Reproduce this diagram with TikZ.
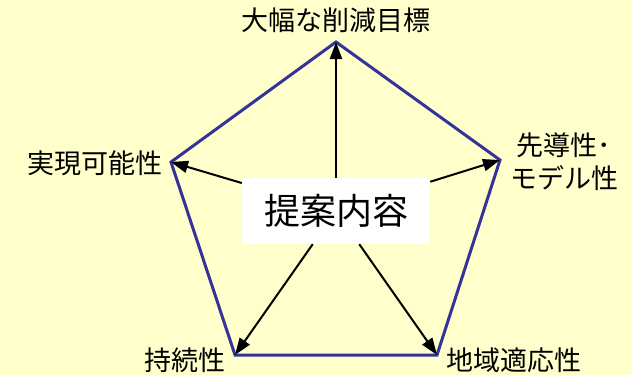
\documentclass[tikz,border=0pt]{standalone}
\usepackage{fontspec}
\setmainfont{Noto Sans CJK JP}
\usepackage{xcolor}
\definecolor{paleYellow}{HTML}{FFFFCC}
\definecolor{edgeBlue}{HTML}{333399}
\usetikzlibrary{arrows.meta, positioning}

\begin{document}
\begin{tikzpicture}[
		x=1pt, y=-1pt,
		pent/.style={draw=edgeBlue, line width=3pt, line join=miter},
		arrow/.style={-{Triangle[length=17pt, width=12pt]}, line width=2pt},
		lbl/.style={inner sep=0pt, align=center, font=\fontsize{27}{33}\selectfont},
		box/.style={
			fill=white,
			minimum width=188pt,
			minimum height=66pt,
			font=\fontsize{36}{40}\selectfont
		}
		]
		
		\fill[paleYellow] (0,0) rectangle (632,375);
		\useasboundingbox (0,0) rectangle (632,375);
		
		% corners of the pentagon
		\coordinate (goal) at (336,42);
		\coordinate (feasible) at (171,162);
		\coordinate (model) at (500,160);
		\coordinate (sustain) at (235,355);
		\coordinate (local) at (437,355);
		
		\draw[pent] (goal) -- (model) -- (local) -- (sustain) -- (feasible) -- cycle;
		
		\node[box] (proposal) at (336,211) {提案内容};
		
		\draw[arrow] (proposal) -- (goal);
		\draw[arrow] (proposal) -- (feasible);
		\draw[arrow] (proposal) -- (model);
		\draw[arrow] (proposal) -- (sustain);
		\draw[arrow] (proposal) -- (local);
		
		\node[lbl] (goalText) at (336,20) {大幅な削減目標};
		\node[lbl] (feasibleText) at (95,163) {実現可能性};
		\node[lbl] (modelText) at (564,162) {先導性･\\モデル性};
		\node[lbl] (sustainText) at (185,360) {持続性};
		\node[lbl] (localText) at (514,360) {地域適応性};
		
	\end{tikzpicture}
\end{document}
